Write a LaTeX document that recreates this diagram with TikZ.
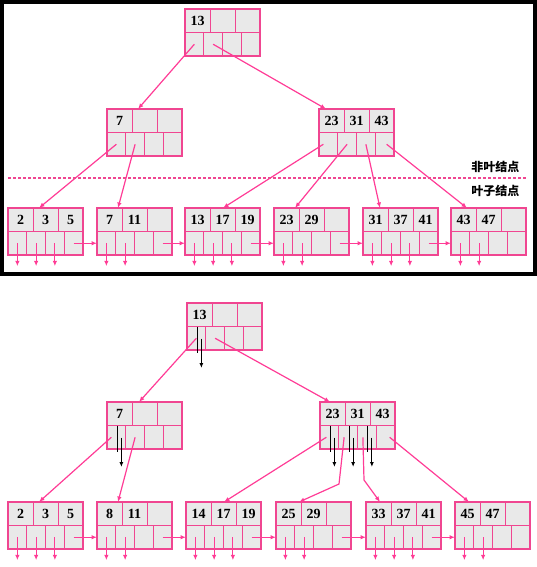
\documentclass[tikz,border=0pt]{standalone}
\usepackage{fontspec}
\setmainfont{Liberation Serif}
\newfontfamily\cjk{Noto Sans CJK SC}
\usetikzlibrary{positioning,arrows.meta}
\definecolor{bpink}{RGB}{240,70,145}
\definecolor{apink}{RGB}{255,60,150}
\definecolor{cellgray}{RGB}{233,233,233}
\tikzstyle{keycell}=[draw=bpink, fill=cellgray, line width=0.8pt, minimum width=25pt, minimum height=23.5pt, inner sep=0pt, outer sep=0pt, font=\fontsize{14}{14}\selectfont\bfseries]
\tikzstyle{ptrcell}=[keycell, minimum width=18.75pt]
\tikzstyle{edge}=[apink, line width=1.2pt, -{Latex[length=5.5pt,width=4.5pt]}]
\tikzstyle{trail}=[black, line width=1.1pt]

% one B+ tree node: name, left, top, three keys
\newcommand{\bpbox}[6]{%
  \node[keycell, anchor=north west] (#1-k1) at (#2,#3) {#4};
  \node[keycell, right=0pt of #1-k1] (#1-k2) {#5};
  \node[keycell, right=0pt of #1-k2] (#1-k3) {#6};
  \node[ptrcell, anchor=north west] (#1-p1) at (#1-k1.south west) {};
  \node[ptrcell, right=0pt of #1-p1] (#1-p2) {};
  \node[ptrcell, right=0pt of #1-p2] (#1-p3) {};
  \node[ptrcell, right=0pt of #1-p3] (#1-p4) {};
  \draw[bpink, line width=1.3pt] (#1-k1.north west) rectangle (#1-p4.south east);
  \draw[bpink, line width=2.2pt] (#1-p1.south west) -- (#1-p4.south east);
  \foreach \i in {1,...,4}
    \coordinate (#1-d\i) at ([yshift=-23pt]#1-p\i.center);
}

\begin{document}
\begin{tikzpicture}[x=1pt, y=-1pt]
\useasboundingbox (0,0) rectangle (537,567);
% Frame
    \draw[line width=4pt] (2,2) rectangle (535,273.5);
% Upper tree
    \bpbox{troot}{185}{9}{13}{}{}
    \bpbox{tleft}{107}{109}{7}{}{}
    \bpbox{tright}{319}{109}{23}{31}{43}
    \bpbox{tleaf1}{8}{208}{2}{3}{5}
    \bpbox{tleaf2}{97}{208}{7}{11}{}
    \bpbox{tleaf3}{185}{208}{13}{17}{19}
    \bpbox{tleaf4}{274}{208}{23}{29}{}
    \bpbox{tleaf5}{363}{208}{31}{37}{41}
    \bpbox{tleaf6}{451}{208}{43}{47}{}
    \draw[edge] (troot-p1.center) -- ([xshift=6pt]tleft-k2.north west);
    \draw[edge] (troot-p2.center) -- ([xshift=7pt]tright-k1.north west);
    \draw[edge] (tleft-p1.center) -- ([xshift=6pt]tleaf1-k2.north west);
    \draw[edge] (tleft-p2.center) -- ([xshift=21pt]tleaf2-k1.north west);
    \draw[edge] ([xshift=-5pt]tright-p1.center) -- ([xshift=13pt]tleaf3-k2.north west);
    \draw[edge] (tright-p2.center) -- ([xshift=21pt]tleaf4-k1.north west);
    \draw[edge] (tright-p3.center) -- ([xshift=17pt]tleaf5-k1.north west);
    \draw[edge] ([xshift=2pt]tright-p4.center) -- ([xshift=16pt]tleaf6-k1.north west);
    \foreach \a/\b in {1/2,2/3,3/4,4/5,5/6}
      \draw[edge] (tleaf\a-p4.center) -- (tleaf\b-p1.west);
    \foreach \n/\k in {1/3,2/2,3/3,4/2,5/3,6/2}
      \foreach \i in {1,...,\k}
        \draw[edge] (tleaf\n-p\i.center) -- (tleaf\n-d\i);
% Level split
    \draw[bpink, line width=1.3pt, dash pattern=on 3pt off 2pt] (8,178) -- (527,178);
    \node[anchor=east, font=\cjk\bfseries\fontsize{12}{12}\selectfont] (nonleaf) at (523,167) {非叶结点};
    \node[anchor=east, font=\cjk\bfseries\fontsize{12}{12}\selectfont] (leafnote) at (523,191) {叶子结点};
% Lower tree
    \bpbox{broot}{187}{303}{13}{}{}
    \bpbox{bleft}{107}{402}{7}{}{}
    \bpbox{bright}{320}{402}{23}{31}{43}
    \bpbox{bleaf1}{8}{502}{2}{3}{5}
    \bpbox{bleaf2}{97}{502}{8}{11}{}
    \bpbox{bleaf3}{186}{502}{14}{17}{19}
    \bpbox{bleaf4}{276}{502}{25}{29}{}
    \bpbox{bleaf5}{366}{502}{33}{37}{41}
    \bpbox{bleaf6}{455}{502}{45}{47}{}
    \coordinate (bend4) at (339,484);
    \coordinate (bend5) at (364,480);
    \draw[edge] (broot-p1.center) -- ([xshift=7pt]bleft-k2.north west);
    \draw[edge] (broot-p2.center) -- ([xshift=10pt]bright-k1.north west);
    \draw[edge] ([xshift=-5pt]bleft-p1.center) -- ([xshift=6pt]bleaf1-k2.north west);
    \draw[edge] (bleft-p2.center) -- ([xshift=21pt]bleaf2-k1.north west);
    \draw[edge] ([xshift=-3pt]bright-p1.center) -- ([xshift=13pt]bleaf3-k2.north west);
    \draw[edge] ([xshift=-4pt]bright-p2.center) -- (bend4) -- ([xshift=23pt]bleaf4-k1.north west);
    \draw[edge] ([xshift=-4pt]bright-p3.center) -- (bend5) -- ([xshift=14pt]bleaf5-k1.north west);
    \draw[edge] ([xshift=4pt]bright-p4.center) -- ([xshift=14pt]bleaf6-k1.north west);
    \foreach \a/\b in {1/2,2/3,3/4,4/5,5/6}
      \draw[edge] (bleaf\a-p4.center) -- (bleaf\b-p1.west);
    \foreach \n/\k in {1/3,2/2,3/3,4/2,5/3,6/2}
      \foreach \i in {1,...,\k}
        \draw[edge] (bleaf\n-p\i.center) -- (bleaf\n-d\i);
% Search trails
    \foreach \c in {broot-p1, bleft-p1, bright-p1, bright-p2, bright-p3} {
      \draw[trail] ([xshift=1pt]\c.north) -- ([xshift=1pt,yshift=-3pt]\c.south);
      \draw[trail, -{Latex[length=5pt,width=4pt]}] ([xshift=5pt,yshift=-12pt]\c.north) -- ([xshift=5pt,yshift=-18pt]\c.south);
    }
\end{tikzpicture}
\end{document}
